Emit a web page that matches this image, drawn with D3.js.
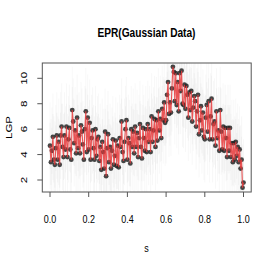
<!DOCTYPE html>
<html><head><meta charset="utf-8">
<script src="https://cdn.jsdelivr.net/npm/d3@7"></script>
<style>body{margin:0;background:#fff}svg{display:block}text{font-family:"Liberation Sans",Arial,Helvetica,sans-serif;fill:#000}</style>
</head><body><script>
const sVals=[0,0.005,0.01,0.015,0.02,0.025,0.03,0.035,0.04,0.045,0.05,0.055,0.06,0.065,0.07,0.075,0.08,0.085,0.09,0.095,
0.1,0.105,0.11,0.115,0.12,0.125,0.13,0.135,0.14,0.145,0.15,0.155,0.16,0.165,0.17,0.175,0.18,0.185,0.19,0.195,
0.2,0.205,0.21,0.215,0.22,0.225,0.23,0.235,0.24,0.245,0.25,0.255,0.26,0.265,0.27,0.275,0.28,0.285,0.29,0.295,
0.3,0.305,0.31,0.315,0.32,0.325,0.33,0.335,0.34,0.345,0.35,0.355,0.36,0.365,0.37,0.375,0.38,0.385,0.39,0.395,
0.4,0.405,0.41,0.415,0.42,0.425,0.43,0.435,0.44,0.445,0.45,0.455,0.46,0.465,0.47,0.475,0.48,0.485,0.49,0.495,
0.5,0.505,0.51,0.515,0.52,0.525,0.53,0.535,0.54,0.545,0.55,0.555,0.56,0.565,0.57,0.575,0.58,0.585,0.59,0.595,
0.6,0.605,0.61,0.615,0.62,0.625,0.63,0.635,0.64,0.645,0.65,0.655,0.66,0.665,0.67,0.675,0.68,0.685,0.69,0.695,
0.7,0.705,0.71,0.715,0.72,0.725,0.73,0.735,0.74,0.745,0.75,0.755,0.76,0.765,0.77,0.775,0.78,0.785,0.79,0.795,
0.8,0.805,0.81,0.815,0.82,0.825,0.83,0.835,0.84,0.845,0.85,0.855,0.86,0.865,0.87,0.875,0.88,0.885,0.89,0.895,
0.9,0.905,0.91,0.915,0.92,0.925,0.93,0.935,0.94,0.945,0.95,0.955,0.96,0.965,0.97,0.975,0.98,0.985,0.99,0.995,1];
const lgp=[4.7,3.4,4.3,5.4,3.6,3.2,4.5,5.5,3.6,5.0,
3.2,5.5,6.2,4.6,3.8,5.5,4.4,6.2,3.8,5.2,
6.1,4.4,3.6,7.5,6.6,4.9,5.9,4.1,6.9,4.5,
5.5,4.1,6.3,5.8,4.8,3.6,6.0,7.4,4.2,6.9,
4.4,6.5,3.6,5.3,5.9,4.5,3.6,6.0,3.9,5.2,
5.4,3.5,4.6,2.8,5.0,4.2,2.9,5.8,2.3,4.5,
5.6,3.4,4.6,2.9,4.3,5.2,3.2,3.9,5.1,3.1,
4.7,3.0,5.3,4.6,6.6,4.2,3.5,5.0,6.0,6.7,
3.6,5.3,4.9,3.3,6.0,4.6,5.8,4.1,6.2,4.6,
5.7,3.8,5.3,6.4,4.6,3.7,6.1,5.3,4.3,6.0,
4.2,6.4,5.0,6.0,4.2,7.0,5.0,5.9,6.8,4.6,
6.7,5.1,7.4,5.9,6.8,5.3,7.6,6.7,8.1,6.5,
6.7,8.7,9.7,7.2,8.1,7.3,9.2,10.9,10.5,8.2,
10.4,7.9,9.7,7.4,10.4,9.0,10.6,8.0,7.9,9.5,
7.6,9.4,8.7,6.9,8.9,7.5,9.0,6.6,7.7,8.6,
8.2,6.2,7.4,8.7,5.6,6.7,7.8,5.9,7.3,5.4,
5.2,6.9,7.9,5.8,8.2,5.2,7.0,8.4,5.2,6.4,
6.6,4.7,7.4,5.3,5.9,4.3,7.5,5.8,4.4,6.2,
4.3,6.1,5.3,3.8,6.1,4.3,6.1,3.8,4.9,3.4,
4.9,3.6,5.0,3.9,4.6,3.4,4.4,2.9,3.6,1.4,
1.8];
const xTicks=[0.0,0.2,0.4,0.6,0.8,1.0];
const yTicks=[2,4,6,8,10];
const innerSpread=1.8, outerSpread=3.4;

const W=273,H=273,SX=0.78;
const svg=d3.select("body").append("svg").attr("width",W).attr("height",H);
const x=d3.scaleLinear().domain([0,1]).range([50,243.5]);
const y=d3.scaleLinear().domain([2,10]).range([180,78.3]);
const L=42.3,R=251.2,T=63,B=192;
const data=sVals.map((s,i)=>({s,v:lgp[i]}));

const g=svg.append("g");
function ci(sp,op,cls){
 g.selectAll("line."+cls).data(data).join("line").attr("class",cls)
  .attr("x1",d=>x(d.s)).attr("x2",d=>x(d.s))
  .attr("y1",d=>Math.min(B,y(d.v-sp))).attr("y2",d=>Math.max(T,y(d.v+sp)))
  .attr("stroke","#c8c8c8").attr("stroke-opacity",op).attr("stroke-width",1);
}
ci(outerSpread,0.12,"ciO");
ci(innerSpread,0.16,"ciI");
g.selectAll("circle").data(data).join("circle")
 .attr("cx",d=>x(d.s)).attr("cy",d=>y(d.v)).attr("r",2.4)
 .attr("fill","#262626").attr("fill-opacity",0.85);
g.append("path").datum(data).attr("fill","none").attr("stroke","#e8393b").attr("stroke-opacity",0.85).attr("stroke-width",1.1)
 .attr("d",d3.line().x(d=>x(d.s)).y(d=>y(d.v)));

svg.append("rect").attr("x",L).attr("y",T).attr("width",R-L).attr("height",B-T)
 .attr("fill","none").attr("stroke","#555").attr("stroke-width",1);

const xa=svg.append("g").call(d3.axisBottom(x).tickValues(xTicks).tickSize(5).tickFormat(d3.format(".1f")));
xa.select(".domain").remove();
xa.selectAll(".tick").each(function(d){
  const t=d3.select(this); const xx=x(d);
  t.attr("transform",null);
  t.select("line").attr("x1",xx).attr("x2",xx).attr("y1",B).attr("y2",B+5).attr("stroke","#555");
  t.select("text").attr("x",0).attr("y",0).attr("dy",0).attr("font-size",11.5)
   .attr("transform",`translate(${xx},223) scale(${SX},1)`);
});

const ya=svg.append("g").call(d3.axisLeft(y).tickValues(yTicks).tickSize(5).tickFormat(d3.format("d")));
ya.select(".domain").remove();
ya.selectAll(".tick").each(function(d){
  const t=d3.select(this); const yy=y(d);
  t.attr("transform",null);
  t.select("line").attr("x1",L).attr("x2",L-5).attr("y1",yy).attr("y2",yy).attr("stroke","#555");
  t.select("text").attr("x",0).attr("dy",0).attr("text-anchor","middle").attr("font-size",11.5)
   .attr("transform",`translate(27,${yy}) scale(${SX},1) rotate(-90)`);
});

svg.append("text").attr("text-anchor","middle").attr("font-size",13).attr("font-weight","bold")
 .attr("transform",`translate(146.5,37) scale(${SX},1)`).text("EPR(Gaussian Data)");
svg.append("text").attr("text-anchor","middle").attr("font-size",11.5)
 .attr("transform",`translate(146.5,252) scale(${SX},1)`).text("s");
svg.append("text").attr("text-anchor","middle").attr("font-size",11.5)
 .attr("transform",`translate(12,127.5) scale(${SX},1) rotate(-90)`).text("LGP");
</script></body></html>
